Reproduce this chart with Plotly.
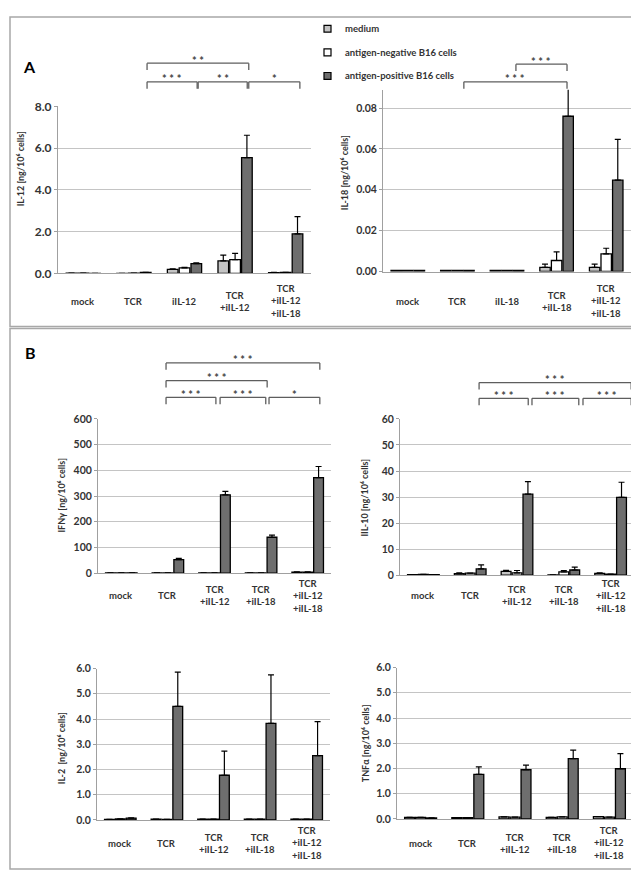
import plotly.graph_objects as go

W, H = 639, 871
FONT = "Lato, 'Open Sans', sans-serif"

# ---------------- data ----------------
series = ["medium", "antigen-negative B16 cells", "antigen-positive B16 cells"]
colors = ["#c4c4c4", "#ffffff", "#6e6e6e"]

cats_il12 = ["mock", "TCR", "iIL-12", "TCR +iIL-12", "TCR +iIL-12 +iIL-18"]
cats_il18 = ["mock", "TCR", "iIL-18", "TCR +iIL-18", "TCR +iIL-12 +iIL-18"]
cats_b = ["mock", "TCR", "TCR +iIL-12", "TCR +iIL-18", "TCR +iIL-12 +iIL-18"]

il12_medium = [0.02, 0.01, 0.20, 0.60, 0.04]
il12_medium_err = [0, 0, 0.02, 0.28, 0.01]
il12_neg = [0.02, 0.02, 0.27, 0.66, 0.05]
il12_neg_err = [0, 0, 0.03, 0.30, 0.01]
il12_pos = [0.01, 0.05, 0.47, 5.55, 1.90]
il12_pos_err = [0, 0.01, 0.04, 1.07, 0.82]

il18_medium = [0.0005, 0.0005, 0.0005, 0.0020, 0.0020]
il18_medium_err = [0, 0, 0, 0.0016, 0.0016]
il18_neg = [0.0005, 0.0005, 0.0005, 0.0054, 0.0086]
il18_neg_err = [0, 0, 0, 0.0042, 0.0028]
il18_pos = [0.0005, 0.0005, 0.0005, 0.076, 0.0447]
il18_pos_err = [0, 0, 0, 0.014, 0.020]

ifng_medium = [1.5, 1.5, 1.5, 1.5, 4.0]
ifng_medium_err = [0, 0, 0, 0, 1]
ifng_neg = [1.5, 1.5, 1.5, 1.5, 4.0]
ifng_neg_err = [0, 0, 0, 0, 1]
ifng_pos = [1.5, 53, 305, 140, 372]
ifng_pos_err = [0, 5, 13, 8, 43]

il10_medium = [0.2, 0.6, 1.5, 0.1, 0.7]
il10_medium_err = [0, 0.3, 0.4, 0, 0.2]
il10_neg = [0.3, 0.8, 0.9, 1.25, 0.4]
il10_neg_err = [0, 0, 0.9, 0.55, 0]
il10_pos = [0.2, 2.4, 31.1, 2.0, 29.9]
il10_pos_err = [0, 1.6, 4.8, 1.1, 5.8]

il2_medium = [0.02, 0.03, 0.03, 0.03, 0.03]
il2_medium_err = [0, 0, 0, 0, 0]
il2_neg = [0.04, 0.02, 0.03, 0.03, 0.03]
il2_neg_err = [0, 0, 0, 0, 0]
il2_pos = [0.07, 4.50, 1.77, 3.83, 2.55]
il2_pos_err = [0.01, 1.36, 0.96, 1.92, 1.35]

tnf_medium = [0.06, 0.05, 0.08, 0.06, 0.09]
tnf_medium_err = [0, 0, 0, 0, 0]
tnf_neg = [0.06, 0.05, 0.07, 0.08, 0.07]
tnf_neg_err = [0, 0, 0, 0, 0]
tnf_pos = [0.04, 1.77, 1.95, 2.39, 1.99]
tnf_pos_err = [0, 0.29, 0.18, 0.34, 0.60]

# ---------------- layout helpers ----------------
def px_x(x):
    return x / W

def px_y(y):
    return 1 - y / H

panels = [
    dict(cats=cats_il12, vals=[il12_medium, il12_neg, il12_pos],
         errs=[il12_medium_err, il12_neg_err, il12_pos_err],
         title="IL-12 [ng/10⁶ cells]", xd=(50, 303), yd=(92, 262),
         rng=[0, 8], dtick=2, fmt=".1f", tfs=12, laby=290, tpos=(12, 156)),
    dict(cats=cats_il18, vals=[il18_medium, il18_neg, il18_pos],
         errs=[il18_medium_err, il18_neg_err, il18_pos_err],
         title="IL-18 [ng/10⁶ cells]", xd=(375, 623), yd=(75, 260),
         rng=[0, 0.089], dtick=0.02, fmt=".2f", tfs=10.5, laby=290, tpos=(336, 160)),
    dict(cats=cats_b, vals=[ifng_medium, ifng_neg, ifng_pos],
         errs=[ifng_medium_err, ifng_neg_err, ifng_pos_err],
         title="IFNγ [ng/10⁶ cells]", xd=(90, 323), yd=(410, 567),
         rng=[0, 600], dtick=100, fmt="d", tfs=10.5, laby=590, tpos=(54, 488)),
    dict(cats=cats_b, vals=[il10_medium, il10_neg, il10_pos],
         errs=[il10_medium_err, il10_neg_err, il10_pos_err],
         title="IIL-10 [ng/10⁶ cells]", xd=(392, 626), yd=(410, 569),
         rng=[0, 60], dtick=10, fmt="d", tfs=10.5, laby=590, tpos=(357, 490)),
    dict(cats=cats_b, vals=[il2_medium, il2_neg, il2_pos],
         errs=[il2_medium_err, il2_neg_err, il2_pos_err],
         title="IL-2  [ng/10⁶ cells]", xd=(89, 322), yd=(664, 818),
         rng=[0, 6], dtick=1, fmt=".1f", tfs=10.5, laby=842, tpos=(53, 745)),
    dict(cats=cats_b, vals=[tnf_medium, tnf_neg, tnf_pos],
         errs=[tnf_medium_err, tnf_neg_err, tnf_pos_err],
         title="TNFα [ng/10⁶ cells]", xd=(389, 625), yd=(663, 817),
         rng=[0, 6], dtick=1, fmt=".1f", tfs=10.5, laby=842, tpos=(357, 740)),
]

# significance brackets: panel index, x start, x end (category units), line y px, label
brackets = [
    (0, 1.26, 3.27, 48, "**"),
    (0, 1.26, 2.25, 67, "***"),
    (0, 2.27, 3.24, 67, "**"),
    (0, 3.27, 4.28, 67, "*"),
    (1, 2.18, 3.21, 49, "***"),
    (1, 1.13, 3.21, 67, "***"),
    (2, 0.96, 4.26, 353, "***"),
    (2, 0.96, 3.13, 371, "***"),
    (2, 0.96, 2.03, 388, "***"),
    (2, 2.12, 3.10, 388, "***"),
    (2, 3.17, 4.26, 388, "*"),
    (3, 1.19, 4.44, 373, "***"),
    (3, 1.19, 2.24, 389, "***"),
    (3, 2.32, 3.32, 389, "***"),
    (3, 3.41, 4.44, 389, "***"),
]

fig = go.Figure()
shapes = []
annotations = []
layout_axes = {}

for i, p in enumerate(panels):
    n = i + 1
    xa = "x" if n == 1 else f"x{n}"
    ya = "y" if n == 1 else f"y{n}"
    for s in range(3):
        fig.add_trace(go.Bar(
            x=p["cats"], y=p["vals"][s], name=series[s],
            xaxis=xa, yaxis=ya, showlegend=False,
            marker=dict(color=colors[s], line=dict(color="#000000", width=1.3)),
            error_y=dict(type="data", symmetric=False, array=p["errs"][s],
                         arrayminus=[0] * len(p["errs"][s]),
                         color="#000000", thickness=1.2, width=3),
        ))
    layout_axes[f"xaxis{'' if n == 1 else n}"] = dict(
        domain=[px_x(p["xd"][0]), px_x(p["xd"][1])], anchor=ya,
        type="category", showticklabels=False, ticks="",
        showline=True, linecolor="#a0a0a0", linewidth=1, showgrid=False,
        range=[-0.5, 4.5], fixedrange=True,
    )
    layout_axes[f"yaxis{'' if n == 1 else n}"] = dict(
        domain=[px_y(p["yd"][1]), px_y(p["yd"][0])], anchor=xa,
        range=p["rng"], dtick=p["dtick"], tickformat=p["fmt"],
        showline=True, linecolor="#a0a0a0", linewidth=1,
        showgrid=True, gridcolor="#c4c4c4", gridwidth=1, zeroline=False,
        ticks="outside", ticklen=3, tickcolor="#a0a0a0",
        tickfont=dict(family=FONT, size=p["tfs"], color="#333333", weight="bold"),
        fixedrange=True,
    )
    for c in p["cats"]:
        annotations.append(dict(
            x=c, xref=xa, y=px_y(p["laby"]), yref="paper",
            text=c.replace(" +", "<br>+"), showarrow=False,
            xanchor="center", yanchor="middle",
            font=dict(family=FONT, size=9.5, color="#333333", weight="bold"),
        ))
    annotations.append(dict(
        x=px_x(p["tpos"][0]), y=px_y(p["tpos"][1]), xref="paper", yref="paper",
        text=p["title"], textangle=-90, showarrow=False,
        xanchor="center", yanchor="middle",
        font=dict(family=FONT, size=9, color="#333333", weight="bold"),
    ))

for (pi, xs, xe, ly, lab) in brackets:
    n = pi + 1
    xa = "x" if n == 1 else f"x{n}"
    lc = dict(color="#5e5e5e", width=1.3)
    shapes.append(dict(type="line", xref=xa, yref="paper", x0=xs, x1=xe,
                       y0=px_y(ly), y1=px_y(ly), line=lc))
    for xx in (xs, xe):
        shapes.append(dict(type="line", xref=xa, yref="paper", x0=xx, x1=xx,
                           y0=px_y(ly), y1=px_y(ly + 7), line=lc))
    annotations.append(dict(
        x=(xs + xe) / 2, xref=xa, y=px_y(ly - 3), yref="paper",
        text=" ".join(lab), showarrow=False, xanchor="center", yanchor="middle",
        font=dict(family=FONT, size=11, color="#444444", weight="bold"),
    ))

frame = dict(color="#a8a8a8", width=1.5)
shapes.append(dict(type="rect", xref="paper", yref="paper",
                   x0=px_x(2), x1=px_x(637), y0=px_y(316), y1=px_y(1), line=frame))
shapes.append(dict(type="rect", xref="paper", yref="paper",
                   x0=px_x(2), x1=px_x(637), y0=px_y(868), y1=px_y(318), line=frame))

annotations.append(dict(x=px_x(13), y=px_y(40), xref="paper", yref="paper", text="A",
                        showarrow=False, font=dict(family=FONT, size=16, color="#000", weight="bold")))
annotations.append(dict(x=px_x(15), y=px_y(342), xref="paper", yref="paper", text="B",
                        showarrow=False, font=dict(family=FONT, size=16, color="#000", weight="bold")))

leg_y = [13, 37, 61]
for s in range(3):
    shapes.append(dict(type="rect", xref="paper", yref="paper",
                       x0=px_x(316), x1=px_x(323), y0=px_y(leg_y[s] + 3.5), y1=px_y(leg_y[s] - 3.5),
                       fillcolor=colors[s], line=dict(color="#000", width=1.2)))
    annotations.append(dict(x=px_x(335), y=px_y(leg_y[s]), xref="paper", yref="paper",
                            text=series[s], showarrow=False, xanchor="left", yanchor="middle",
                            font=dict(family=FONT, size=9.5, color="#333333", weight="bold")))

fig.update_layout(
    width=W, height=H, autosize=False,
    margin=dict(l=0, r=0, t=0, b=0),
    paper_bgcolor="white", plot_bgcolor="white",
    barmode="group", bargap=0.3, bargroupgap=0.1,
    shapes=shapes, annotations=annotations,
    **layout_axes,
)

fig.write_html("out.html", config={"displayModeBar": False})
